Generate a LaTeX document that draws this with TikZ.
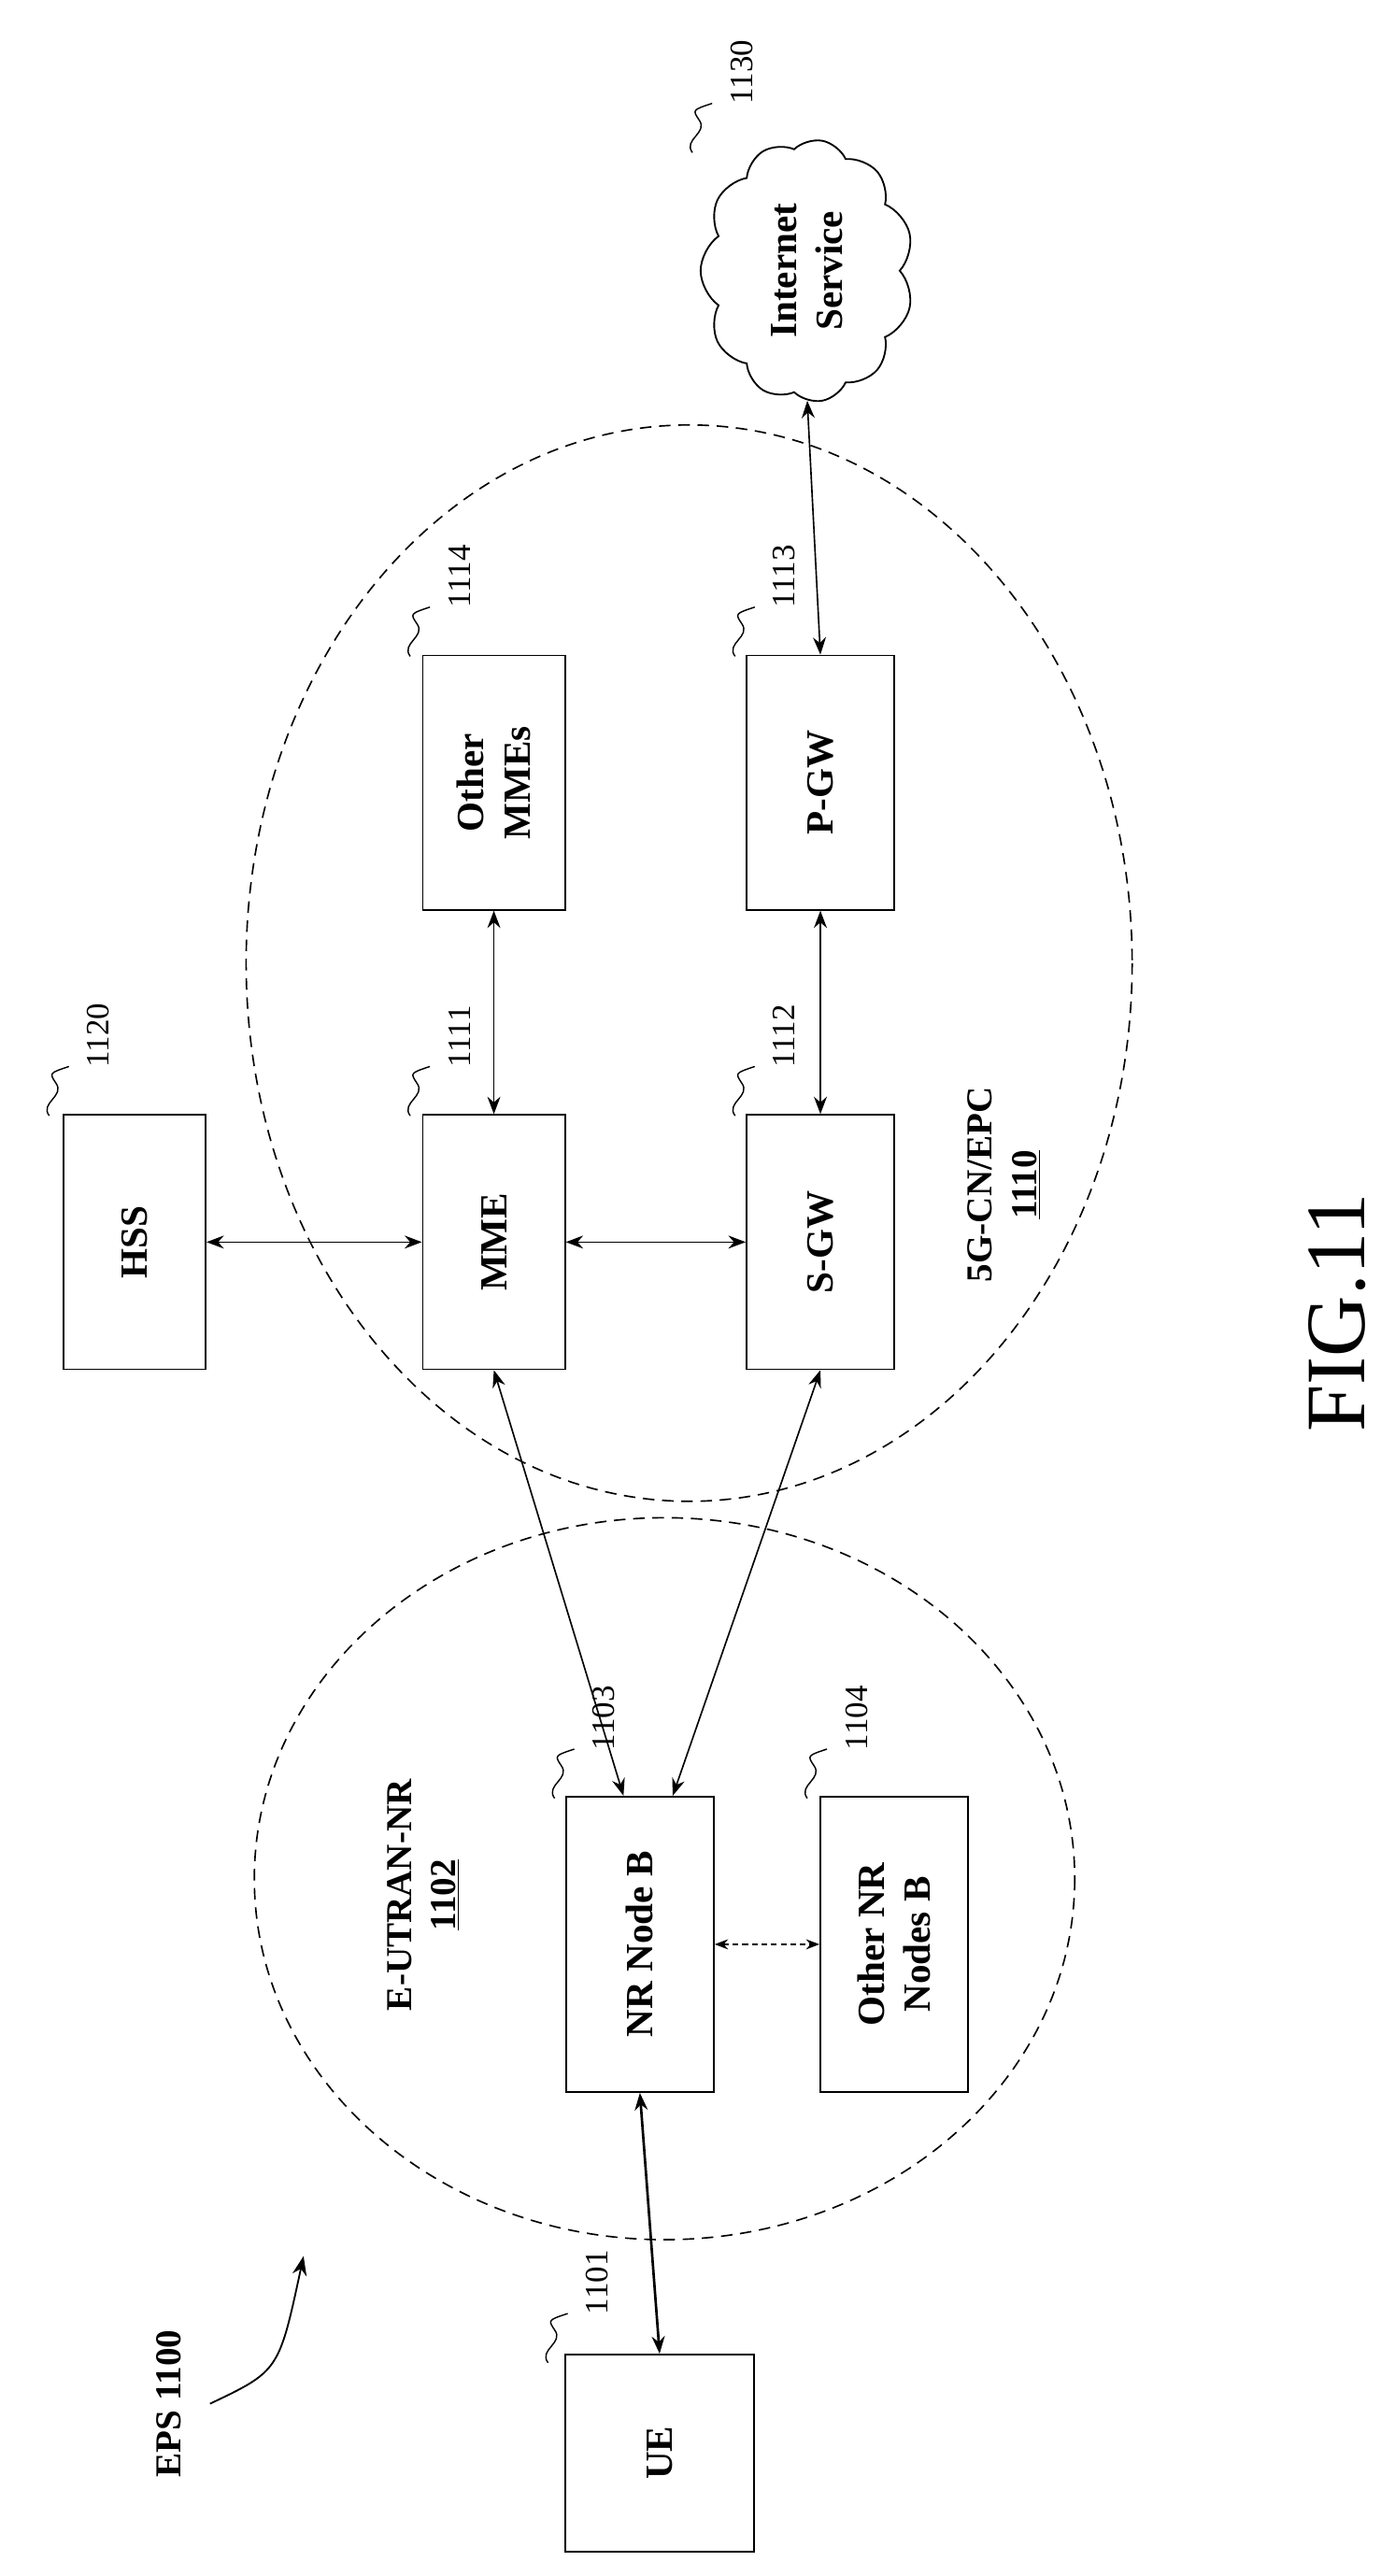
\documentclass[tikz,border=0pt]{standalone}
\usepackage{fontspec}
\setmainfont{Liberation Serif}
\usetikzlibrary{shapes.symbols,arrows.meta}

\tikzset{
  box/.style={draw,line width=0.9pt,rotate=90,font=\fontsize{20}{24}\selectfont\bfseries,align=center},
  ref/.style={rotate=90,font=\fontsize{17}{20}\selectfont,anchor=west,inner sep=1pt},
  link/.style={{Stealth[length=9pt]}-{Stealth[length=9pt]},line width=0.8pt},
  area/.style={dashed,line width=0.8pt,dash pattern=on 6pt off 4pt}
}

\begin{document}
\begin{tikzpicture}[x=0.03cm,y=-0.03cm]
    \useasboundingbox (0,0) rectangle (850,1570);
    % areas
    \draw[area] (405,1145) ellipse [x radius=250,y radius=220];
    \draw[area] (420,587) ellipse [x radius=270,y radius=328];
    % boxes
    \node[box,minimum width=3.6cm,minimum height=3.45cm] (ue) at (402,1495) {UE};
    \node[box,minimum width=5.4cm,minimum height=2.7cm] (nr) at (390,1185) {NR Node B};
    \node[box,minimum width=5.4cm,minimum height=2.7cm] (onr) at (545,1185) {Other NR\\Nodes B};
    \node[box,minimum width=4.65cm,minimum height=2.6cm] (hss) at (82,757) {HSS};
    \node[box,minimum width=4.65cm,minimum height=2.6cm] (mme) at (301,757) {MME};
    \node[box,minimum width=4.65cm,minimum height=2.7cm] (sgw) at (500,757) {S-GW};
    \node[box,minimum width=4.65cm,minimum height=2.6cm] (omme) at (301,477) {Other\\MMEs};
    \node[box,minimum width=4.65cm,minimum height=2.7cm] (pgw) at (500,477) {P-GW};
    \node[box,cloud,cloud puffs=11,cloud puff arc=110,aspect=1.2,
          minimum width=4.8cm,minimum height=3.9cm,inner sep=0pt] (net) at (492,165) {Internet\\Service};
    % reference numbers
    \foreach \n/\x/\y/\t in {a/364/1412/1101, b/368/1068/1103, c/522/1068/1104,
        d/60/652/1120, e/280/652/1111, f/478/652/1112,
        g/280/372/1114, h/478/372/1113, i/452/65/1130} {
      \node[ref] (lab\n) at (\x,\y) {\t};
      \draw[line width=0.7pt] (\x-30,\y+28) .. controls (\x-36,\y+20) and (\x-20,\y+16) .. (\x-26,\y+8)
        .. controls (\x-30,\y+2) .. (\x-18,\y-2);
    }
    % area labels
    \node[rotate=90,font=\fontsize{19}{23}\selectfont\bfseries,align=center] (eutran) at (258,1155)
      {E-UTRAN-NR\\\underline{1102}};
    \node[rotate=90,font=\fontsize{19}{23}\selectfont\bfseries,align=center] (epc) at (612,722)
      {5G-CN/EPC\\\underline{1110}};
    % links
    \draw[link,line width=1.3pt] (ue.east) -- (nr.west);
    \draw[link,{Stealth[length=7pt]}-{Stealth[length=7pt]},dashed,dash pattern=on 3pt off 2pt] (nr.south) -- (onr.north);
    \draw[link] (hss.south) -- (mme.north);
    \draw[link] (mme.south) -- (sgw.north);
    \draw[link] (mme.east) -- (omme.west);
    \draw[link] (sgw.east) -- (pgw.west);
    \draw[link] (pgw.east) -- (net.west);
    \draw[link] ([xshift=-0.3cm]nr.east) -- (mme.west);
    \draw[link] ([xshift=0.6cm]nr.east) -- (sgw.west);
    % EPS marker
    \node[rotate=90,font=\fontsize{19}{23}\selectfont\bfseries] (eps) at (103,1465) {EPS 1100};
    \draw[-{Stealth[length=10pt]},line width=0.9pt] ([xshift=0.4cm]eps.south) .. controls (170,1445) .. (185,1375);
    \node[rotate=90,font=\fontsize{44}{50}\selectfont] (fig) at (815,800) {FIG.11};
\end{tikzpicture}
\end{document}
